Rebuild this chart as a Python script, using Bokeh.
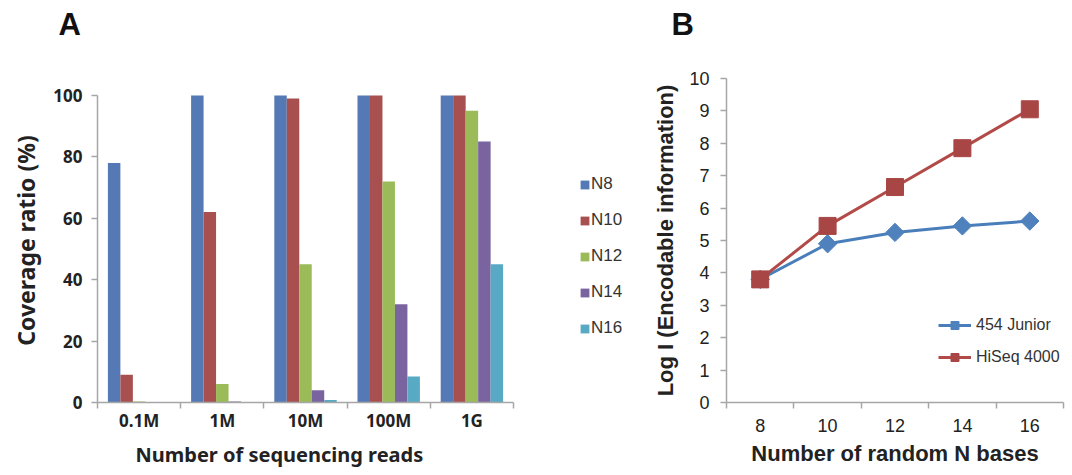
import numpy as np
from bokeh.plotting import figure
from bokeh.models import FixedTicker, Legend, LegendItem, Title, Range1d
from bokeh.layouts import row
from bokeh.embed import file_html
from bokeh.resources import INLINE

# ---------------- data ----------------
categories = ["0.1M", "1M", "10M", "100M", "1G"]
series_names = ["N8", "N10", "N12", "N14", "N16"]
n8 = [78, 100, 100, 100, 100]
n10 = [9, 62, 99, 100, 100]
n12 = [0.3, 6, 45, 72, 95]
n14 = [0, 0.3, 4, 32, 85]
n16 = [0, 0, 0.8, 8.5, 45]
cov_ticks = [0, 20, 40, 60, 80, 100]

bases = ["8", "10", "12", "14", "16"]
junior_454 = [3.8, 4.9, 5.25, 5.45, 5.6]
hiseq_4000 = [3.8, 5.45, 6.65, 7.85, 9.05]
log_ticks = [0, 1, 2, 3, 4, 5, 6, 7, 8, 9, 10]

bar_colors = ["#5479B5", "#A8504F", "#9BBB59", "#7964A0", "#58A9C4"]
FA = "Noto Sans"
FB = "Liberation Sans"
AXC = "#A6A6A6"
TXT = "#222222"

# shared frame geometry (row aligns the frames of both figures)
H = 475
TOP = 78
BOT = 71
FH = H - TOP - BOT          # 326 px

# ---------------- panel A ----------------
ncat = len(categories)
WA = 650
fwA = WA - 97 - 3
pxA = 416.0 / ncat                      # px per category
x_endA = fwA / pxA                      # frame extends right of the axis to hold the legend
yA1 = 100.0 * FH / (FH - 17)            # 100 % sits 17 px below the frame top
pA = figure(width=WA, height=H, min_border_left=97, min_border_right=3,
            min_border_top=TOP, min_border_bottom=BOT,
            x_range=Range1d(0, x_endA), y_range=Range1d(0, yA1),
            output_backend="svg", toolbar_location=None)
pA.outline_line_color = None
pA.grid.visible = False
pA.background_fill_color = None
pA.border_fill_color = None

xs = np.arange(ncat) + 0.5
bw = 0.15
offsets = [-2 * bw, -bw, 0, bw, 2 * bw]
rends = []
for vals, off, col in zip([n8, n10, n12, n14, n16], offsets, bar_colors):
    r = pA.vbar(x=xs + off, top=vals, bottom=0, width=bw, fill_color=col, line_color=None)
    rends.append(r)

xa = pA.xaxis[0]
xa.bounds = (0, ncat)
xa.ticker = FixedTicker(ticks=list(xs), minor_ticks=list(range(ncat + 1)))
xa.major_label_overrides = {float(x): c for x, c in zip(xs, categories)}
xa.major_tick_line_color = None
xa.major_tick_out = 6
xa.major_tick_in = 0
xa.minor_tick_line_color = AXC
xa.minor_tick_out = 6
xa.minor_tick_in = 0
xa.minor_tick_line_width = 1.5
xa.axis_line_color = AXC
xa.axis_line_width = 1.5
xa.major_label_text_font = FA
xa.major_label_text_font_style = "bold"
xa.major_label_text_font_size = "17px"
xa.major_label_text_color = TXT
xa.major_label_standoff = 0

pA.add_layout(Title(text="Number of sequencing reads", align="left", offset=38,
                    vertical_align="top", standoff=12,
                    text_font=FA, text_font_style="bold", text_font_size="20px",
                    text_color=TXT), "below")

ya = pA.yaxis[0]
ya.bounds = (0, 100)
ya.ticker = FixedTicker(ticks=cov_ticks, minor_ticks=[])
ya.major_tick_out = 6
ya.major_tick_in = 0
ya.major_tick_line_color = AXC
ya.major_tick_line_width = 1.5
ya.axis_line_color = AXC
ya.axis_line_width = 1.5
ya.major_label_text_font = FA
ya.major_label_text_font_style = "bold"
ya.major_label_text_font_size = "17px"
ya.major_label_text_color = TXT
ya.major_label_standoff = 9
ya.axis_label = "Coverage ratio (%)"
ya.axis_label_text_font = FA
ya.axis_label_text_font_style = "bold"
ya.axis_label_text_font_size = "23px"
ya.axis_label_text_color = TXT
ya.axis_label_standoff = 8

legA = Legend(items=[LegendItem(label=n, renderers=[r]) for n, r in zip(series_names, rends)],
              location=(482, 64), orientation="vertical",
              glyph_width=11, glyph_height=11, label_height=11, spacing=16,
              label_standoff=1, padding=0, margin=0,
              border_line_color=None, background_fill_alpha=0,
              label_text_font=FB, label_text_font_size="17px", label_text_color="#333333")
pA.add_layout(legA, "center")

pA.title = Title(text="A\n", align="left", offset=-39, vertical_align="top", standoff=0,
                 text_font=FB, text_font_style="bold", text_font_size="31px",
                 text_color="#111111")

# ---------------- panel B ----------------
WB = 1072 - WA
pB = figure(width=WB, height=H, min_border_left=73, min_border_right=WB - 73 - 340,
            min_border_top=TOP, min_border_bottom=BOT,
            x_range=Range1d(0, len(bases)), y_range=Range1d(0, 10),
            output_backend="svg", toolbar_location=None)
pB.outline_line_color = None
pB.grid.visible = False
pB.background_fill_color = None
pB.border_fill_color = None

xb = np.arange(len(bases)) + 0.5
blue = "#4A7EBB"
red = "#B24A48"
l1 = pB.line(xb, junior_454, line_color=blue, line_width=3)
m1 = pB.scatter(xb, junior_454, marker="square", angle=np.pi / 4, size=13,
                fill_color="#4F81BD", line_color="#4F81BD")
l2 = pB.line(xb, hiseq_4000, line_color=red, line_width=3)
m2 = pB.scatter(xb, hiseq_4000, marker="square", size=17,
                fill_color="#A84646", line_color="#A84646")

xb_ax = pB.xaxis[0]
xb_ax.ticker = FixedTicker(ticks=list(xb), minor_ticks=list(range(len(bases) + 1)))
xb_ax.major_label_overrides = {float(x): b for x, b in zip(xb, bases)}
xb_ax.major_tick_line_color = None
xb_ax.major_tick_out = 6
xb_ax.major_tick_in = 0
xb_ax.minor_tick_line_color = AXC
xb_ax.minor_tick_out = 6
xb_ax.minor_tick_in = 0
xb_ax.minor_tick_line_width = 1.5
xb_ax.axis_line_color = AXC
xb_ax.axis_line_width = 1.5
xb_ax.major_label_text_font = FB
xb_ax.major_label_text_font_size = "18px"
xb_ax.major_label_text_color = TXT
xb_ax.major_label_standoff = 10
xb_ax.axis_label = "Number of random N bases"
xb_ax.axis_label_text_font = FB
xb_ax.axis_label_text_font_style = "bold"
xb_ax.axis_label_text_font_size = "22px"
xb_ax.axis_label_text_color = TXT
xb_ax.axis_label_standoff = 6

yb = pB.yaxis[0]
yb.ticker = FixedTicker(ticks=log_ticks, minor_ticks=[])
yb.major_tick_out = 6
yb.major_tick_in = 0
yb.major_tick_line_color = AXC
yb.major_tick_line_width = 1.5
yb.axis_line_color = AXC
yb.axis_line_width = 1.5
yb.major_label_text_font = FB
yb.major_label_text_font_size = "18px"
yb.major_label_text_color = TXT
yb.major_label_standoff = 11
yb.axis_label = "Log I (Encodable information)"
yb.axis_label_text_font = FB
yb.axis_label_text_font_style = "bold"
yb.axis_label_text_font_size = "22px"
yb.axis_label_text_color = TXT
yb.axis_label_standoff = 8

legB = Legend(items=[LegendItem(label="454 Junior", renderers=[l1, m1]),
                     LegendItem(label="HiSeq 4000", renderers=[l2, m2])],
              location=(212, 35), orientation="vertical",
              glyph_width=33, glyph_height=20, label_height=20, spacing=12,
              label_standoff=5, padding=0, margin=0,
              border_line_color=None, background_fill_alpha=0,
              label_text_font=FB, label_text_font_size="16px", label_text_color="#333333")
pB.add_layout(legB, "center")

pB.title = Title(text="B\n", align="left", offset=-55, vertical_align="top", standoff=0,
                 text_font=FB, text_font_style="bold", text_font_size="31px",
                 text_color="#111111")

layout = row(pA, pB)
open("out.html", "w").write(file_html(layout, INLINE))
